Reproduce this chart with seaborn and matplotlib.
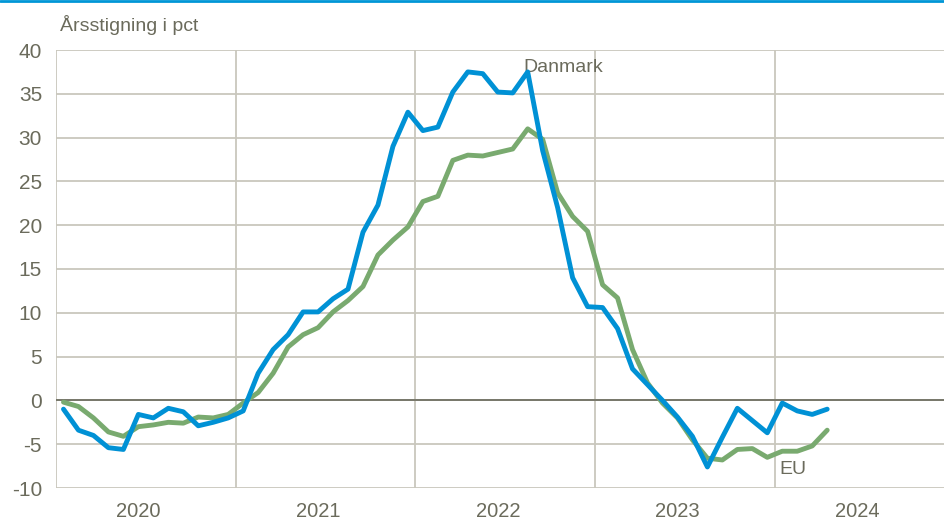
import numpy as np
import pandas as pd
import matplotlib
matplotlib.use("Agg")
import matplotlib.pyplot as plt
from matplotlib.ticker import FixedLocator, NullFormatter, FixedFormatter
import seaborn as sns

# monthly data, Jan 2020 - Apr 2024
months = pd.date_range("2020-01-01", "2024-04-01", freq="MS")
danmark = [-1.0, -3.4, -4.0, -5.4, -5.6, -1.6, -2.0, -0.9, -1.3, -2.9, -2.5, -2.0,
           -1.2, 3.1, 5.8, 7.5, 10.1, 10.1, 11.6, 12.7, 19.2, 22.3, 29.0, 32.9,
           30.8, 31.2, 35.2, 37.5, 37.3, 35.2, 35.1, 37.5, 28.5, 22.0, 14.0, 10.7,
           10.6, 8.2, 3.6, 1.8, 0.0, -1.9, -4.1, -7.6, -4.2, -0.9, -2.3, -3.7,
           -0.3, -1.2, -1.6, -1.0]
eu = [-0.2, -0.7, -2.0, -3.6, -4.1, -3.0, -2.8, -2.5, -2.6, -1.9, -2.0, -1.6,
      -0.3, 0.9, 3.1, 6.1, 7.5, 8.3, 10.1, 11.4, 13.0, 16.6, 18.3, 19.8,
      22.7, 23.3, 27.4, 28.0, 27.9, 28.3, 28.7, 31.0, 29.8, 23.7, 21.0, 19.3,
      13.2, 11.7, 5.8, 2.0, -0.3, -2.0, -4.5, -6.6, -6.8, -5.6, -5.5, -6.5,
      -5.8, -5.8, -5.2, -3.4]
years = ["2020", "2021", "2022", "2023", "2024"]
y_ticks = [-10, -5, 0, 5, 10, 15, 20, 25, 30, 35, 40]

df = pd.DataFrame({
    "idx": np.arange(len(months)),
    "Danmark": danmark,
    "EU": eu,
})

sns.set_style("white")
plt.rcParams["font.family"] = ["Liberation Sans Narrow", "Liberation Sans", "DejaVu Sans"]

text_col = "#6b6b5c"
grid_col = "#c9c7bd"
blue = "#0091d5"
green = "#79aa6f"

fig = plt.figure(figsize=(9.44, 5.24), dpi=100)
ax = fig.add_axes([56 / 944, 1 - 488 / 524, 1 - 56 / 944, (488 - 50) / 524])

sns.lineplot(data=df, x="idx", y="Danmark", color=blue, lw=3.5, ax=ax, zorder=4)
sns.lineplot(data=df, x="idx", y="EU", color=green, lw=3.5, ax=ax, zorder=3)

ax.set_ylim(-10, 40)
ax.set_xlim(-0.5, 58.8)
ax.set_yticks(y_ticks)
ax.set_yticklabels([str(v) for v in y_ticks], color=text_col, fontsize=15)

ax.xaxis.set_major_locator(FixedLocator([-0.5 + 12 * k for k in range(5)]))
ax.xaxis.set_major_formatter(NullFormatter())
ax.xaxis.set_minor_locator(FixedLocator([5.0 + 12 * k for k in range(5)]))
ax.xaxis.set_minor_formatter(FixedFormatter(years))
ax.tick_params(axis="x", which="both", length=0)
ax.tick_params(axis="x", which="minor", labelsize=14.5, labelcolor=text_col, pad=10)
ax.tick_params(axis="y", length=0, pad=10)

ax.grid(True, axis="both", which="major", color=grid_col, lw=1.3, zorder=0)
ax.axhline(0, color="#77776a", lw=1.4, zorder=2)
for s in ["top", "right", "bottom", "left"]:
    ax.spines[s].set_visible(False)

ax.set_xlabel("")
ax.set_ylabel("")

ax.text(30.7, 37.0, "Danmark", color=text_col, fontsize=14, va="bottom", ha="left")
ax.text(47.8, -6.9, "EU", color=text_col, fontsize=14, va="top", ha="left")

fig.text(60 / 944, 1 - 25 / 524, "Årsstigning i pct", color=text_col, fontsize=14,
         va="center", ha="left")
fig.add_artist(plt.Line2D([0, 1], [1 - 1 / 524, 1 - 1 / 524], color="#0096d6", lw=2,
                          transform=fig.transFigure))

fig.savefig("out.png", dpi=100)
